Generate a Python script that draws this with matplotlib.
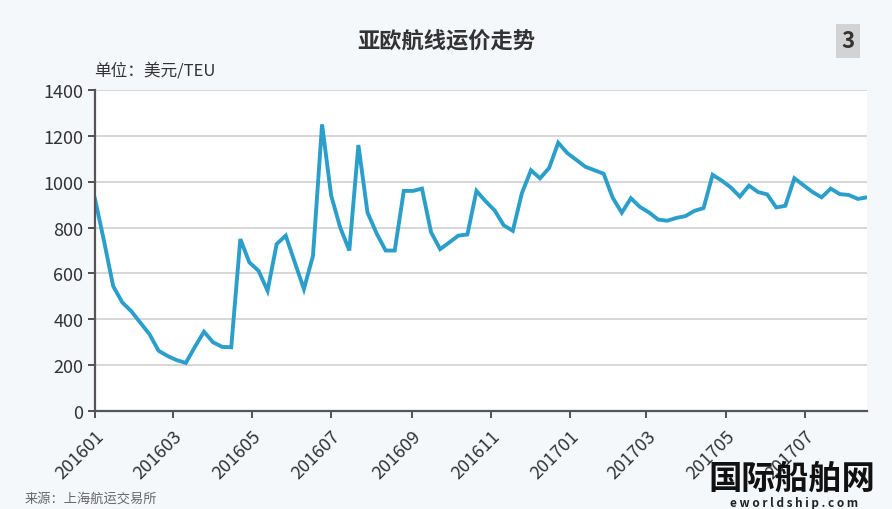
import matplotlib
matplotlib.use("Agg")
import matplotlib.pyplot as plt
import matplotlib.dates as mdates
import pandas as pd

plt.rcParams['font.family'] = ['Noto Sans CJK SC', 'DejaVu Sans']

title = "亚欧航线运价走势"
unit_label = "单位：美元/TEU"
source_label = "来源：上海航运交易所"

# weekly freight rate (USD/TEU), starting first week of Jan 2016
weeks = pd.date_range("2016-01-01", periods=86, freq="7D")
rates = [925, 740, 545, 474, 435, 385, 335, 263, 240, 222,
         210, 280, 346, 300, 280, 278, 750, 648, 612, 525,
         728, 765, 648, 532, 677, 1250, 940, 800, 700, 1160,
         866, 775, 700, 700, 960, 960, 970, 780, 706, 735,
         765, 770, 960, 915, 875, 810, 786, 950, 1050, 1015,
         1060, 1170, 1125, 1095, 1065, 1050, 1035, 930, 865, 928,
         890, 866, 835, 830, 842, 850, 873, 885, 1030, 1005,
         975, 935, 983, 955, 945, 888, 895, 1015, 985, 955,
         932, 970, 946, 942, 925, 932]

tick_dates = pd.date_range("2016-01-01", "2017-07-01", freq="2MS")
tick_labels = [d.strftime("%Y%m") for d in tick_dates]
y_ticks = [0, 200, 400, 600, 800, 1000, 1200, 1400]

fig = plt.figure(figsize=(8.92, 5.10), dpi=100, facecolor="#f4f8fb")
ax = fig.add_axes([0.1065, 0.192, 0.8655, 0.6296])
ax.set_facecolor("white")

ax.plot(weeks, rates, color="#2b9fca", lw=2.8, solid_joinstyle="miter")

ax.set_ylim(0, 1400)
ax.set_xlim(weeks[0], weeks[-1])
ax.set_yticks(y_ticks)
ax.set_xticks(tick_dates)
ax.set_xticklabels(tick_labels, rotation=45, ha="right", rotation_mode="anchor")
ax.tick_params(axis="both", colors="#444444", labelcolor="#333333", labelsize=13,
               length=5, width=1.3, direction="out")
ax.tick_params(axis="x", pad=6)

ax.grid(axis="y", color="#d6d6d6", lw=1.4)
ax.set_axisbelow(True)
for s in ["top", "right"]:
    ax.spines[s].set_visible(False)
for s in ["left", "bottom"]:
    ax.spines[s].set_color("#555555")
    ax.spines[s].set_linewidth(1.6)

fig.text(0.5, 0.918, title, ha="center", va="center", fontsize=16,
         fontweight="bold", color="#333333")
fig.text(0.105, 0.86, unit_label, ha="left", va="center", fontsize=12,
         color="#333333")
fig.text(0.951, 0.918, "3", ha="center", va="center", fontsize=16,
         fontweight="bold", color="#333333",
         bbox=dict(boxstyle="square,pad=0.25", fc="#d3d3d3", ec="none"))
fig.text(0.028, 0.008, source_label, ha="left", va="bottom", fontsize=9.5,
         color="#666666")
fig.text(0.888, 0.06, "国际船舶网", ha="center", va="center", fontsize=24,
         fontweight="bold", color="#111111")
fig.text(0.89, 0.013, "e w o r l d s h i p . c o m", ha="center", va="center",
         fontsize=8.5, color="#222222", fontweight="bold")

fig.savefig("out.png", dpi=100, facecolor=fig.get_facecolor())
